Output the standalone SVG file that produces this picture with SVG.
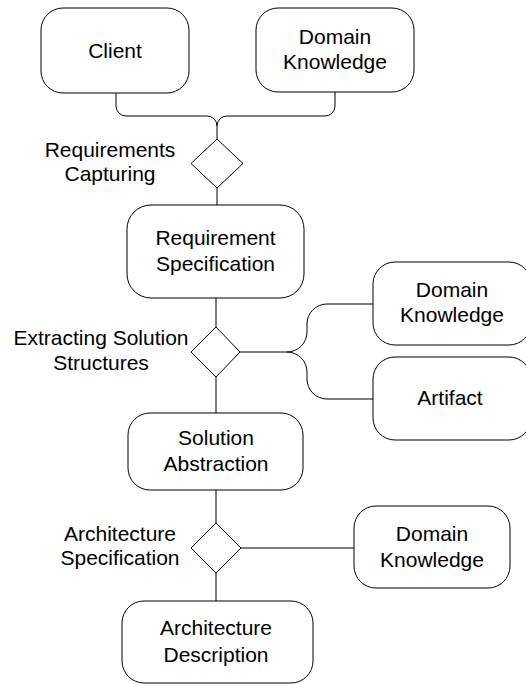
<svg xmlns="http://www.w3.org/2000/svg" width="526" height="684" viewBox="0 0 526 684">
<style>
.box{fill:#fff;stroke:#000;stroke-width:1}
.dia{fill:#fff;stroke:#000;stroke-width:1}
.con{fill:none;stroke:#000;stroke-width:1}
text{font-family:"Liberation Sans",Arial,sans-serif;font-size:21px;fill:#000;text-anchor:middle}
</style>
<rect width="526" height="684" fill="#fff"/>
<g id="connectors">
<path class="con" d="M116,93 V106 A10,10 0 0 0 126,116 H207 A10,10 0 0 1 217,126 V139"/>
<path class="con" d="M335,92 V106 A10,10 0 0 1 325,116 H227 A10,10 0 0 0 217,126"/>
<path class="con" d="M217,188 V205"/>
<path class="con" d="M216,298 V327"/>
<path class="con" d="M240,352 H287 A20,20 0 0 0 307,332 V324 A20,20 0 0 1 327,304 H373"/>
<path class="con" d="M287,352 A20,20 0 0 1 307,372 V379 A20,20 0 0 0 327,399 H373"/>
<path class="con" d="M216,377 V413"/>
<path class="con" d="M216,490 V523"/>
<path class="con" d="M241,548 H354"/>
<path class="con" d="M216,573 V601"/>
</g>
<g id="client">
<rect class="box" x="41" y="8" width="148" height="85" rx="22"/>
<text x="115" y="58">Client</text>
</g>
<g id="domain1">
<rect class="box" x="256" y="8" width="158" height="84" rx="22"/>
<text x="335" y="44">Domain</text>
<text x="335" y="69">Knowledge</text>
</g>
<g id="req-capturing">
<polygon class="dia" points="217,139 243,163.5 217,188 191,163.5"/>
<text x="110" y="157">Requirements</text>
<text x="110" y="181">Capturing</text>
</g>
<g id="req-spec">
<rect class="box" x="127" y="205" width="177" height="93" rx="24"/>
<text x="215.5" y="245">Requirement</text>
<text x="215.5" y="271">Specification</text>
</g>
<g id="extracting">
<polygon class="dia" points="216,327 240,352 216,377 191,352"/>
<text x="101" y="345">Extracting Solution</text>
<text x="101" y="370">Structures</text>
</g>
<g id="domain2">
<rect class="box" x="373" y="262" width="158" height="83" rx="22"/>
<text x="452" y="297">Domain</text>
<text x="452" y="322">Knowledge</text>
</g>
<g id="artifact">
<rect class="box" x="373" y="357" width="158" height="83" rx="22"/>
<text x="450" y="405">Artifact</text>
</g>
<g id="solution">
<rect class="box" x="128" y="413" width="175" height="77" rx="22"/>
<text x="216" y="445">Solution</text>
<text x="216" y="471">Abstraction</text>
</g>
<g id="arch-spec">
<polygon class="dia" points="216,523 241,548 216,573 191,548"/>
<text x="120" y="541">Architecture</text>
<text x="120" y="565">Specification</text>
</g>
<g id="domain3">
<rect class="box" x="354" y="506" width="156" height="82" rx="22"/>
<text x="432" y="541">Domain</text>
<text x="432" y="567">Knowledge</text>
</g>
<g id="arch-desc">
<rect class="box" x="122" y="601" width="191" height="82" rx="22"/>
<text x="216" y="635">Architecture</text>
<text x="216" y="662">Description</text>
</g>
</svg>
